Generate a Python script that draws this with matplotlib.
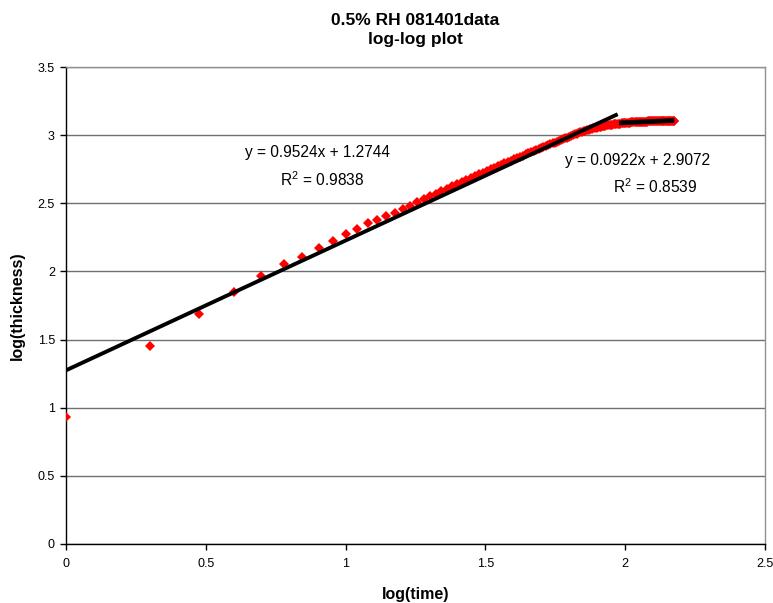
import numpy as np
import matplotlib
matplotlib.use("Agg")
import matplotlib.pyplot as plt

plt.rcParams['font.family'] = ['Liberation Sans', 'DejaVu Sans']
plt.rcParams['mathtext.fontset'] = 'custom'
plt.rcParams['mathtext.rm'] = 'Liberation Sans'
plt.rcParams['mathtext.it'] = 'Liberation Sans:italic'
plt.rcParams['mathtext.bf'] = 'Liberation Sans:bold'

# ---- data ----
time_min = list(range(1, 151))
log_thickness = [
    0.930, 1.455, 1.690, 1.848, 1.963, 2.055, 2.108, 2.170, 2.226, 2.272,
    2.314, 2.353, 2.380, 2.407, 2.431, 2.458, 2.482, 2.507, 2.529, 2.550,
    2.569, 2.588, 2.606, 2.624, 2.640, 2.656, 2.672, 2.686, 2.701, 2.714,
    2.725, 2.738, 2.749, 2.761, 2.772, 2.782, 2.793, 2.803, 2.812, 2.822,
    2.831, 2.841, 2.849, 2.858, 2.867, 2.874, 2.882, 2.890, 2.897, 2.904,
    2.912, 2.919, 2.926, 2.932, 2.939, 2.945, 2.952, 2.958, 2.964, 2.970,
    2.976, 2.982, 2.988, 2.995, 3.001, 3.006, 3.011, 3.016, 3.020, 3.024,
    3.028, 3.032, 3.036, 3.039, 3.043, 3.046, 3.049, 3.052, 3.055, 3.058,
    3.060, 3.062, 3.065, 3.067, 3.069, 3.071, 3.072, 3.074, 3.076, 3.077,
    3.079, 3.080, 3.082, 3.083, 3.084, 3.085, 3.086, 3.087, 3.088, 3.089,
    3.090, 3.091, 3.091, 3.092, 3.093, 3.094, 3.094, 3.095, 3.095, 3.096,
    3.096, 3.097, 3.097, 3.098, 3.098, 3.099, 3.099, 3.099, 3.100, 3.100,
    3.101, 3.101, 3.101, 3.102, 3.102, 3.102, 3.102, 3.103, 3.103, 3.103,
    3.103, 3.104, 3.104, 3.104, 3.104, 3.104, 3.104, 3.105, 3.105, 3.105,
    3.105, 3.105, 3.105, 3.106, 3.106, 3.106, 3.106, 3.106, 3.106, 3.106,
]
# trend lines (coefficients shown on the chart)
fit1_slope, fit1_intercept, fit1_r2 = 0.9524, 1.2744, 0.9838
fit2_slope, fit2_intercept, fit2_r2 = 0.0922, 2.9072, 0.8539
split_index = 94  # first trend line over points 1..94, second over 95..150

title = "0.5% RH 081401data\nlog-log plot"
xlabel = "log(time)"
ylabel = "log(thickness)"
x_ticks = [0, 0.5, 1, 1.5, 2, 2.5]
x_ticklabels = ["0", "0.5", "1", "1.5", "2", "2.5"]
y_ticks = [0, 0.5, 1, 1.5, 2, 2.5, 3, 3.5]
y_ticklabels = ["0", "0.5", "1", "1.5", "2", "2.5", "3", "3.5"]

# ---- figure ----
W, H = 773, 603
fig = plt.figure(figsize=(W / 100, H / 100), dpi=100)
fig.patch.set_facecolor('white')
L, R, T, B = 66, 765, 67, 544
ax = fig.add_axes([L / W, (H - B) / H, (R - L) / W, (B - T) / H])

x = np.log10(np.array(time_min, dtype=float))
y = np.array(log_thickness)

ax.plot(x, y, linestyle='none', marker='D', markersize=5.4,
        color='#ff0000', markeredgewidth=0, zorder=3)

x1 = np.array([x[0], x[split_index - 1]])
ax.plot(x1, fit1_slope * x1 + fit1_intercept, color='black', lw=2.8,
        solid_capstyle='butt', zorder=4)
x2 = np.array([x[split_index], x[-1]])
ax.plot(x2, fit2_slope * x2 + fit2_intercept, color='black', lw=3.4,
        solid_capstyle='butt', zorder=4)

ax.set_xlim(0, 2.5)
ax.set_ylim(0, 3.5)
ax.set_xticks(x_ticks)
ax.set_xticklabels(x_ticklabels)
ax.set_yticks(y_ticks)
ax.set_yticklabels(y_ticklabels)
ax.tick_params(axis='both', direction='out', length=4, width=1,
               labelsize=9, colors='black')
ax.tick_params(axis='x', pad=6)
ax.tick_params(axis='y', pad=4)
ax.yaxis.grid(True, color='#707070', lw=1)
ax.set_axisbelow(True)
for s in ['left', 'bottom']:
    ax.spines[s].set_color('black')
    ax.spines[s].set_linewidth(1)
for s in ['top', 'right']:
    ax.spines[s].set_color('#909090')
    ax.spines[s].set_linewidth(1)

ax.set_xlabel(xlabel, fontsize=11.5, fontweight='bold', labelpad=12)
ax.set_ylabel(ylabel, fontsize=11.5, fontweight='bold', labelpad=9)
fig.text((L + R) / 2 / W, 1 - 30 / H, title, ha='center', va='center',
         fontsize=12.5, fontweight='bold', linespacing=1.3)

ax.text(0.901, 2.869, f"y = {fit1_slope:.4f}x + {fit1_intercept:.4f}",
        ha='center', va='center', fontsize=11.2)
ax.text(0.916, 2.675, f"R$^{{2}}$ = {fit1_r2:.4f}", ha='center', va='center', fontsize=11.2)
ax.text(2.046, 2.817, f"y = {fit2_slope:.4f}x + {fit2_intercept:.4f}",
        ha='center', va='center', fontsize=11.2)
ax.text(2.107, 2.623, f"R$^{{2}}$ = {fit2_r2:.4f}", ha='center', va='center', fontsize=11.2)

fig.savefig("out.png", dpi=100, facecolor='white')
